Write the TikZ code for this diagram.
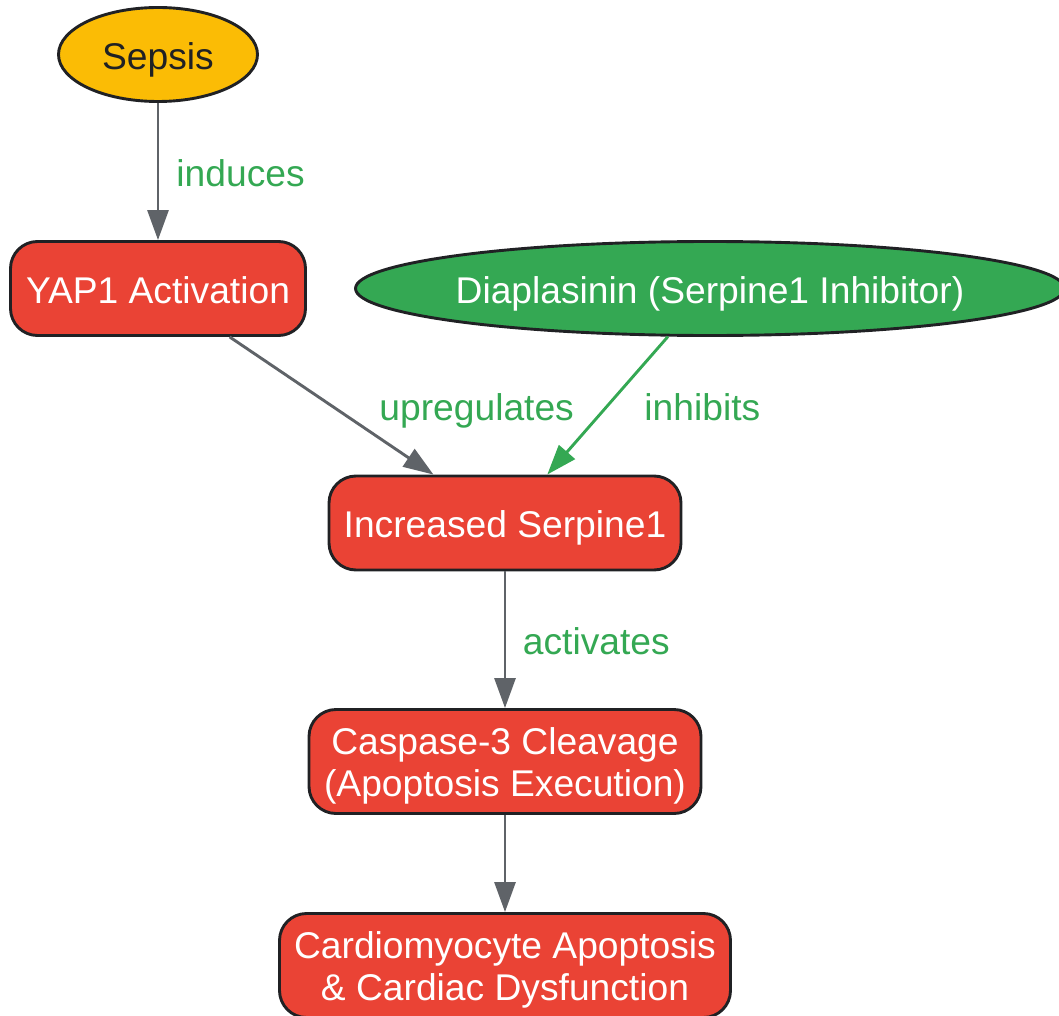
\documentclass[tikz,border=0pt]{standalone}
\usepackage{fontspec}
\setmainfont{Liberation Sans}
\usetikzlibrary{arrows.meta,shapes.geometric}
\definecolor{gyellow}{HTML}{FBBC05}
\definecolor{gred}{HTML}{EA4335}
\definecolor{ggreen}{HTML}{34A853}
\definecolor{ggray}{HTML}{5F6368}
\definecolor{gdark}{HTML}{202124}
\newcommand{\topstrut}{\rule{0pt}{35pt}}
\begin{document}
\begin{tikzpicture}[x=1pt,y=-1pt,
  bigfont/.style={font=\fontsize{37.2}{42}\selectfont},
  base/.style={draw=gdark, line width=2.9pt, bigfont, inner sep=0pt},
  oval/.style={base, ellipse},
  box/.style={base, rectangle, rounded corners=27pt, fill=gred, text=white},
  oneline/.style={text height=29.5pt, text depth=0pt},
  edge/.style={draw=ggray, line width=2.9pt, -{Triangle[length=30pt,width=21pt]}},
  lbl/.style={text=ggreen, bigfont, inner sep=0pt, anchor=base west}]
\useasboundingbox (0,0) rectangle (1059,1016);

\node[oval, oneline, fill=gyellow, text=gdark, minimum width=199pt, minimum height=94pt] (sepsis) at (158,54.5) {Sepsis};
\node[box, oneline, minimum width=295pt, minimum height=94pt] (yap) at (158,288.5) {YAP1 Activation};
\node[oval, oneline, inner xsep=-5pt, fill=ggreen, text=white, minimum width=709pt, minimum height=94pt] (diap) at (710,288.5) {Diaplasinin (Serpine1 Inhibitor)};
\node[box, oneline, minimum width=352pt, minimum height=94pt] (serp) at (505,523) {Increased Serpine1};
\node[box, align=center, minimum width=392pt, minimum height=104pt] (casp) at (505,761.5) {\topstrut Caspase-3 Cleavage\\(Apoptosis Execution)};
\node[box, align=center, minimum width=451pt, minimum height=104pt] (cardio) at (505,965.5) {\topstrut Cardiomyocyte Apoptosis\\\&{} Cardiac Dysfunction};

\draw[edge] (sepsis) -- (yap) node[lbl] at (175,187) {induces};
\draw[edge] (yap) -- (serp) node[lbl] at (378,420) {upregulates};
\draw[edge, draw=ggreen] (diap) -- (serp) node[lbl] at (643,420) {inhibits};
\draw[edge] (serp) -- (casp) node[lbl] at (521.5,654) {activates};
\draw[edge] (casp) -- (cardio);
\end{tikzpicture}
\end{document}
